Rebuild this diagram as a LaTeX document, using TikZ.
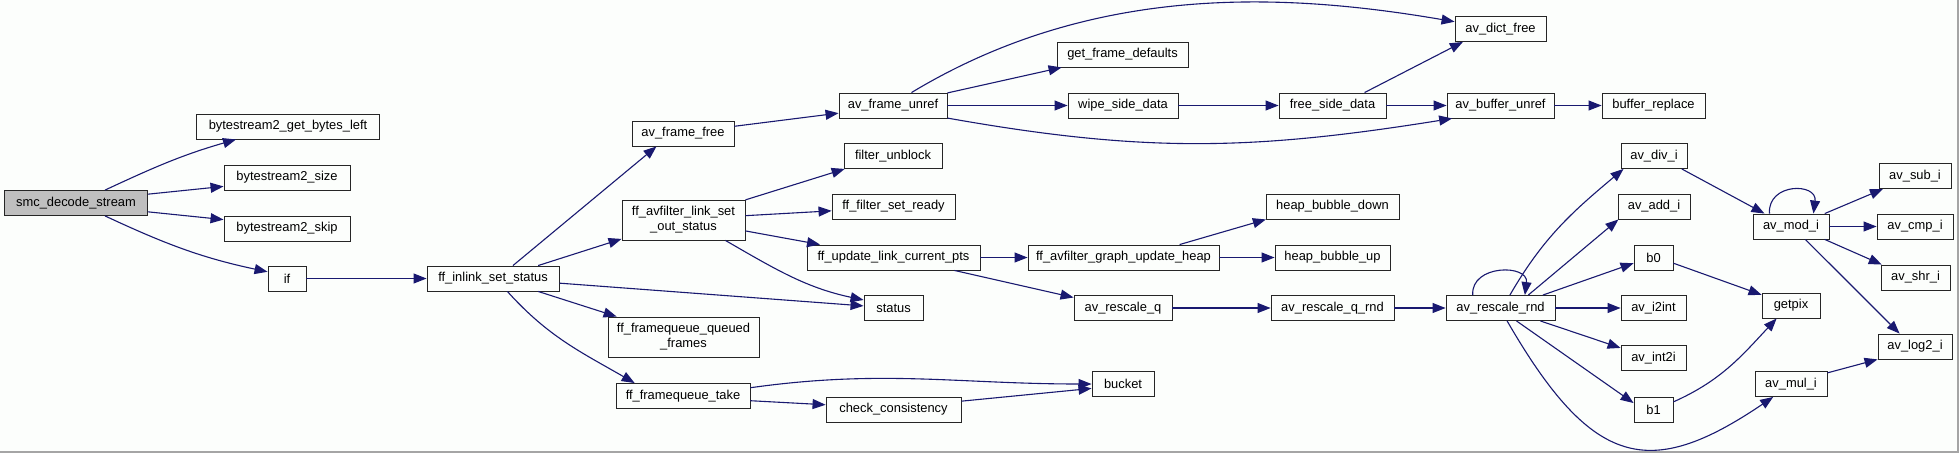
\documentclass[tikz,border=0pt]{standalone}
\usepackage{fontspec}
\setmainfont{Liberation Sans}
\usetikzlibrary{arrows.meta}
\definecolor{edgeblue}{RGB}{25,25,112}
\definecolor{boxgray}{RGB}{191,191,191}
\definecolor{framegray}{RGB}{165,165,165}
\definecolor{bgwhite}{RGB}{252,254,252}
\begin{document}
\begin{tikzpicture}[x=1pt, y=1pt,
  fn/.style={draw=black!85, line width=0.9pt, fill=bgwhite, inner sep=0pt,
    minimum height=25, font=\fontsize{12.9}{15}\selectfont, align=center},
  call/.style={draw=edgeblue, line width=1.1pt, -{Triangle[length=13pt, width=10pt]}}]
  \fill[bgwhite] (0,0) rectangle (1959,-453);
  \useasboundingbox (0,0) rectangle (1959,-453);
  \draw[framegray, line width=1.5pt] (0,-452.2) -- (1958.2,-452.2) -- (1958.2,0);

  \node[fn, fill=boxgray, minimum width=143] (smc) at (76,-203) {smc\_decode\_stream};
  \node[fn, minimum width=183] (bgbl) at (288,-126.5) {bytestream2\_get\_bytes\_left};
  \node[fn, minimum width=126] (bsize) at (287,-177.5) {bytestream2\_size};
  \node[fn, minimum width=126] (bskip) at (287,-228.5) {bytestream2\_skip};
  \node[fn, minimum width=38] (ifcall) at (287,-278.5) {if};
  \node[fn, minimum width=132] (inlink) at (493,-278.5) {ff\_inlink\_set\_status};
  \node[fn, minimum width=102] (framefree) at (683,-133.5) {av\_frame\_free};
  \node[fn, minimum width=123, minimum height=40] (outstatus) at (683.5,-220) {ff\_avfilter\_link\_set\\\_out\_status};
  \node[fn, minimum width=151, minimum height=40] (queued) at (683.5,-337) {ff\_framequeue\_queued\\\_frames};
  \node[fn, minimum width=134] (take) at (683,-396) {ff\_framequeue\_take};
  \node[fn, minimum width=108] (unref) at (893,-105.5) {av\_frame\_unref};
  \node[fn, minimum width=98] (unblock) at (893,-156) {filter\_unblock};
  \node[fn, minimum width=123] (ready) at (893.5,-206.5) {ff\_filter\_set\_ready};
  \node[fn, minimum width=173] (curpts) at (893.5,-257.5) {ff\_update\_link\_current\_pts};
  \node[fn, minimum width=59] (status) at (893.5,-308) {status};
  \node[fn, minimum width=135] (consist) at (893.5,-409.5) {check\_consistency};
  \node[fn, minimum width=131] (defaults) at (1122.5,-54.5) {get\_frame\_defaults};
  \node[fn, minimum width=110] (wipe) at (1123,-105.5) {wipe\_side\_data};
  \node[fn, minimum width=191] (heap) at (1123.5,-257.5) {ff\_avfilter\_graph\_update\_heap};
  \node[fn, minimum width=98] (rescaleq) at (1123,-308) {av\_rescale\_q};
  \node[fn, minimum width=62] (bucket) at (1123,-384) {bucket};
  \node[fn, minimum width=107] (freeside) at (1332.5,-105.5) {free\_side\_data};
  \node[fn, minimum width=133] (bdown) at (1332.5,-206.5) {heap\_bubble\_down};
  \node[fn, minimum width=115] (bup) at (1332.5,-257.5) {heap\_bubble\_up};
  \node[fn, minimum width=123] (qrnd) at (1332.5,-308) {av\_rescale\_q\_rnd};
  \node[fn, minimum width=91] (dictfree) at (1500.5,-29) {av\_dict\_free};
  \node[fn, minimum width=107] (bufunref) at (1500.5,-105.5) {av\_buffer\_unref};
  \node[fn, minimum width=109] (rnd) at (1500.5,-308) {av\_rescale\_rnd};
  \node[fn, minimum width=103] (bufrepl) at (1653.5,-105.5) {buffer\_replace};
  \node[fn, minimum width=66] (divi) at (1654,-156) {av\_div\_i};
  \node[fn, minimum width=72] (addi) at (1654,-206.5) {av\_add\_i};
  \node[fn, minimum width=39] (bzero) at (1653.5,-257.5) {b0};
  \node[fn, minimum width=65] (i2int) at (1653.5,-308) {av\_i2int};
  \node[fn, minimum width=65] (int2i) at (1653.5,-358) {av\_int2i};
  \node[fn, minimum width=39] (bone) at (1653.5,-409.5) {b1};
  \node[fn, minimum width=76] (modi) at (1791,-226.5) {av\_mod\_i};
  \node[fn, minimum width=58] (getpix) at (1791,-305.5) {getpix};
  \node[fn, minimum width=72] (muli) at (1791,-384) {av\_mul\_i};
  \node[fn, minimum width=72] (subi) at (1915,-176) {av\_sub\_i};
  \node[fn, minimum width=76] (cmpi) at (1915,-226.5) {av\_cmp\_i};
  \node[fn, minimum width=69] (shri) at (1915.5,-277.5) {av\_shr\_i};
  \node[fn, minimum width=74] (log2i) at (1915,-346.5) {av\_log2\_i};

  \draw[call] (smc.24) to[out=25,in=196] (bgbl.194);
  \draw[call] (smc.7) -- (bsize.188);
  \draw[call] (smc.-7) -- (bskip.172);
  \draw[call] (smc.-24) to[out=-25,in=168] (ifcall.161);
  \draw[call] (ifcall) -- (inlink);
  \draw[call] (inlink.33) -- (framefree.206);
  \draw[call] (inlink.16) -- (outstatus.197);
  \draw[call] (inlink.-4) -- (status.176);
  \draw[call] (inlink.-16) -- (queued.163);
  \draw[call] (inlink.-42) to[out=-48,in=150] (take.165);
  \draw[call] (framefree.8) -- (unref.188);
  \draw[call] (unref.35) .. controls +(179,108) and +(-175,30) .. (dictfree.171);
  \draw[call] (unref.13) -- (defaults.192);
  \draw[call] (unref) -- (wipe);
  \draw[call] (unref.-13) .. controls +(197,-35) and +(-200,-32) .. (bufunref.195);
  \draw[call] (wipe) -- (freeside);
  \draw[call] (freeside.22) -- (dictfree.199);
  \draw[call] (freeside) -- (bufunref);
  \draw[call] (bufunref) -- (bufrepl);
  \draw[call] (outstatus.18) -- (unblock.195);
  \draw[call] (outstatus.4) -- (ready.184);
  \draw[call] (outstatus.-10) -- (curpts.170);
  \draw[call] (outstatus.-26) to[out=-30,in=168] (status.165);
  \draw[call] (curpts) -- (heap);
  \draw[call] (curpts.-12) -- (rescaleq.168);
  \draw[call] (heap.13) -- (bdown.191);
  \draw[call] (heap) -- (bup);
  \draw[call] (rescaleq) -- (qrnd);
  \draw[call] (qrnd) -- (rnd);
  \draw[call] (rnd.155) .. controls +(-2,31) and +(4,31) .. (rnd.28);
  \draw[call] (rnd.54) to[out=60,in=220] (divi.203);
  \draw[call] (rnd.25) -- (addi.200);
  \draw[call] (rnd.17) -- (bzero.196);
  \draw[call] (rnd) -- (i2int);
  \draw[call] (rnd.-18) -- (int2i.163);
  \draw[call] (rnd.-39) -- (bone.162);
  \draw[call] (rnd.-63) .. controls +(85,-147) and +(-124,-84) .. (muli.216);
  \draw[call] (divi.-25) -- (modi.154);
  \draw[call] (modi.149) .. controls +(-2,31) and +(4,31) .. (modi.30);
  \draw[call] (modi.21) -- (subi.202);
  \draw[call] (modi) -- (cmpi);
  \draw[call] (modi.-21) -- (shri.159);
  \draw[call] (modi.-42) -- (log2i.140);
  \draw[call] (bzero.-16) -- (getpix.160);
  \draw[call] (bone.21) to[out=24,in=227] (getpix.222);
  \draw[call] (muli.17) -- (log2i.199);
  \draw[call] (take.7) to[out=8,in=180] (bucket);
  \draw[call] (take.-4) -- (consist.176);
  \draw[call] (consist.7) -- (bucket.188);
\end{tikzpicture}
\end{document}
